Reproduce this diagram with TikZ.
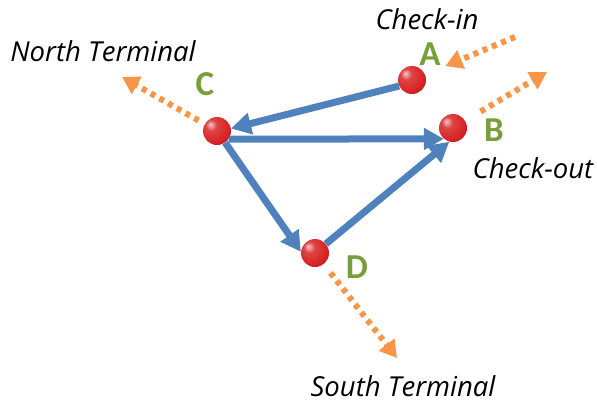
\documentclass[tikz,border=0pt]{standalone}
\usepackage{fontspec}
\setmainfont{Open Sans}
\newfontfamily\letterfont{Carlito}
\usepackage{tikz}
\usetikzlibrary{arrows.meta}
\definecolor{routeblue}{RGB}{79,129,189}
\definecolor{exitorange}{RGB}{247,150,70}
\definecolor{stopgreen}{RGB}{119,158,58}
\definecolor{stopred}{RGB}{215,35,35}
\pgfdeclareradialshading{redball}{\pgfqpoint{-12bp}{12bp}}{color(0bp)=(stopred!25!white); color(10bp)=(stopred!85!white); color(28bp)=(stopred); color(50bp)=(stopred!60!black); color(70bp)=(stopred!55!black)}
\tikzstyle{stopball} = [circle, minimum size=28pt, inner sep=0pt, shading=redball]
\tikzstyle{route} = [line width=7pt, routeblue, -{Triangle[length=20pt,width=21pt]}]
\tikzstyle{exitarrow} = [line width=6pt, exitorange, dash pattern=on 5pt off 5pt, -{Triangle[length=17pt,width=19pt]}]
\tikzstyle{stoplabel} = [text=stopgreen, font=\letterfont\bfseries\fontsize{35}{35}\selectfont]
\tikzstyle{placename} = [font=\itshape\fontsize{27.5}{27.5}\selectfont]

\begin{document}
\begin{tikzpicture}[x=1pt,y=-1pt]
        \useasboundingbox (0,0) rectangle (597,405);
        % Stops
        \node[stopball] (A) at (412,80) {};
        \node[stopball] (B) at (453,128) {};
        \node[stopball] (C) at (217,131) {};
        \node[stopball] (D) at (315,253) {};
        % Stop letters
        \node[stoplabel] (lblA) at (430,54) {A};
        \node[stoplabel] (lblB) at (494,130) {B};
        \node[stoplabel] (lblC) at (205,84) {C};
        \node[stoplabel] (lblD) at (357,267) {D};
        % Place names
        \node[placename] (checkin) at (427,19) {Check-in};
        \node[placename] (checkout) at (533,168) {Check-out};
        \node[placename] (north) at (103,51) {North Terminal};
        \node[placename] (south) at (403,386) {South Terminal};
        % Free ends of the terminal arrows
        \coordinate (inA) at (515,37);
        \coordinate (outB) at (547,72);
        \coordinate (outC) at (122,77);
        \coordinate (outD) at (397,358);
        % Routes
        \draw[route] (A.-155) -- (C.10);
        \draw[route] (C.-35) -- (B.-130);
        \draw[route] (C.-55) -- (D.175);
        \draw[route] (D.40) -- (B.-105);
        % Terminal arrows
        \draw[exitarrow, shorten >=22pt] (inA) -- (A);
        \draw[exitarrow, shorten <=18pt] (B) -- (outB);
        \draw[exitarrow, shorten <=7pt] (C) -- (outC);
        \draw[exitarrow, shorten <=11pt] (D) -- (outD);
\end{tikzpicture}
\end{document}
